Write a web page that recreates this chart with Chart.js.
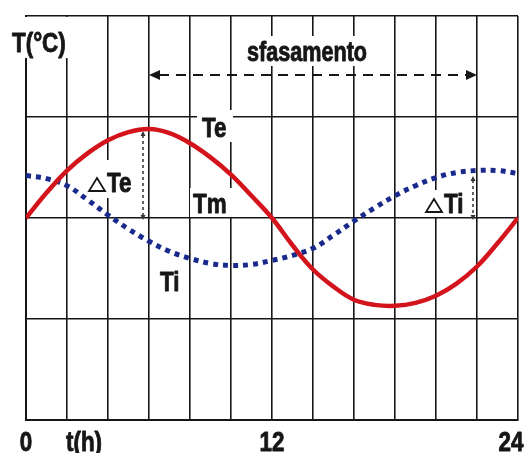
<!DOCTYPE html>
<html>
<head>
<meta charset="utf-8">
<script src="https://cdn.jsdelivr.net/npm/chart.js@4.4.1/dist/chart.umd.min.js"></script>
<style>
  html, body { margin: 0; padding: 0; background: #ffffff; }
  #wrap { width: 525px; height: 453px; }
</style>
</head>
<body>
<div id="wrap"><canvas id="c" width="525" height="453"></canvas></div>
<script>
// ---- data ----
const hours = [0,1,2,3,4,5,6,7,8,9,10,11,12,13,14,15,16,17,18,19,20,21,22,23,24];
const teValues = [0, 0.25, 0.47, 0.64, 0.77, 0.85, 0.88, 0.84, 0.74, 0.60, 0.43, 0.22, 0,
                  -0.27, -0.51, -0.68, -0.81, -0.86, -0.87, -0.84, -0.77, -0.65, -0.48, -0.25, 0];
const tiValues = [0.42, 0.39, 0.32, 0.18, 0.03, -0.11, -0.23, -0.33, -0.40, -0.45, -0.47, -0.46, -0.42,
                  -0.37, -0.30, -0.17, -0.03, 0.10, 0.22, 0.32, 0.40, 0.45, 0.47, 0.47, 0.44];
const xTickValues = [0, 12, 24];
const xTickLabels = ['0', '12', '24'];
const seriesNames = ['Te', 'Ti'];
const axisTitleY = 'T(°C)';
const axisTitleX = 't(h)';
const phaseLabel = 'sfasamento';
const meanLabel = 'Tm';
const deltaSign = '△';

const FONT = '"Liberation Sans", Arial, sans-serif';
const INK = '#161616';

function condText(ctx, text, x, y, size, align) {
  ctx.save();
  ctx.font = 'bold ' + size + 'px ' + FONT;
  ctx.textBaseline = 'alphabetic';
  const sx = 0.8;
  const w = ctx.measureText(text).width * sx;
  let left = x;
  if (align === 'center') left = x - w / 2;
  ctx.translate(left, y);
  ctx.scale(sx, 1);
  ctx.fillStyle = INK;
  ctx.strokeStyle = INK;
  ctx.lineWidth = 0.9;
  ctx.lineJoin = 'round';
  ctx.textAlign = 'left';
  ctx.fillText(text, 0, 0);
  ctx.strokeText(text, 0, 0);
  ctx.restore();
  return w;
}
function deltaText(ctx, text, x, y, size) {
  // small outlined triangle followed by label
  ctx.save();
  ctx.strokeStyle = INK;
  ctx.lineWidth = 1.8;
  ctx.lineJoin = 'miter';
  const tw = 16, th = 13;
  ctx.beginPath();
  ctx.moveTo(x + 1, y - 1);
  ctx.lineTo(x + 1 + tw, y - 1);
  ctx.lineTo(x + 1 + tw / 2, y - 1 - th);
  ctx.closePath();
  ctx.stroke();
  ctx.restore();
  condText(ctx, text, x + tw + 3, y, size, 'left');
}
function whiteRect(ctx, x0, y0, x1, y1) {
  ctx.save();
  ctx.fillStyle = '#ffffff';
  ctx.fillRect(x0, y0, x1 - x0, y1 - y0);
  ctx.restore();
}
function arrowHead(ctx, x, y, dir, len, half) {
  ctx.beginPath();
  if (dir === 'left') { ctx.moveTo(x, y); ctx.lineTo(x + len, y - half); ctx.lineTo(x + len, y + half); }
  if (dir === 'right') { ctx.moveTo(x, y); ctx.lineTo(x - len, y - half); ctx.lineTo(x - len, y + half); }
  if (dir === 'up') { ctx.moveTo(x, y); ctx.lineTo(x - half, y + len); ctx.lineTo(x + half, y + len); }
  if (dir === 'down') { ctx.moveTo(x, y); ctx.lineTo(x - half, y - len); ctx.lineTo(x + half, y - len); }
  ctx.closePath();
  ctx.fill();
}

const annot = {
  id: 'annot',
  beforeDatasetsDraw(chart) {
    const ctx = chart.ctx;
    const xs = chart.scales.x;
    const px = v => xs.getPixelForValue(v);
    // white patches behind labels
    whiteRect(ctx, 0, 17, 72, 58);
    whiteRect(ctx, 244, 36, 377, 66);
    whiteRect(ctx, 197, 110, 233, 142);
    whiteRect(ctx, 190, 188, 233, 217);
    whiteRect(ctx, 86, 160, 138, 198);
    whiteRect(ctx, 423, 190, 467, 217);
    whiteRect(ctx, 0, chart.chartArea.bottom + 1, 525, 453);

    condText(ctx, axisTitleY, 12, 52, 28, 'left');
    condText(ctx, phaseLabel, 247, 61, 27, 'left');
    condText(ctx, seriesNames[0], 202, 137, 28, 'left');
    condText(ctx, meanLabel, 193, 213, 28, 'left');
    deltaText(ctx, seriesNames[0], 88, 192, 28);
    condText(ctx, seriesNames[1], 160, 291, 28, 'left');
    deltaText(ctx, seriesNames[1], 425, 213, 28);

    // bottom labels
    for (let i = 0; i < xTickValues.length; i++) {
      let cx = px(xTickValues[i]);
      if (i === xTickValues.length - 1) cx -= 7;
      condText(ctx, xTickLabels[i], cx, 451, 28, 'center');
    }
    condText(ctx, axisTitleX, 66, 451, 28, 'left');

    // phase-shift arrow
    ctx.save();
    ctx.strokeStyle = INK; ctx.fillStyle = INK;
    ctx.lineWidth = 2;
    ctx.setLineDash([10, 7]);
    const ay = 75, ax0 = px(6), ax1 = px(22);
    ctx.beginPath(); ctx.moveTo(ax0 + 10, ay); ctx.lineTo(ax1 - 10, ay); ctx.stroke();
    ctx.setLineDash([]);
    arrowHead(ctx, ax0, ay, 'left', 11, 5);
    arrowHead(ctx, ax1, ay, 'right', 11, 5);

    // amplitude arrows
    ctx.lineWidth = 1.5;
    ctx.strokeStyle = '#333';
    ctx.fillStyle = '#333';
    ctx.setLineDash([3, 3]);
    const tx = 143;
    ctx.beginPath(); ctx.moveTo(tx, 135); ctx.lineTo(tx, 216); ctx.stroke();
    const ix = 473;
    ctx.beginPath(); ctx.moveTo(ix, 180); ctx.lineTo(ix, 216); ctx.stroke();
    ctx.setLineDash([]);
    arrowHead(ctx, tx, 131, 'up', 5, 2.5);
    arrowHead(ctx, tx, 220, 'down', 5, 2.5);
    arrowHead(ctx, ix, 176, 'up', 5, 2.5);
    arrowHead(ctx, ix, 220, 'down', 5, 2.5);
    ctx.restore();
  }
};

new Chart(document.getElementById('c'), {
  type: 'line',
  data: {
    datasets: [
      {
        label: seriesNames[0],
        data: hours.map((h, i) => ({ x: h, y: teValues[i] })),
        borderColor: '#d3141d',
        borderWidth: 4.5,
        pointRadius: 0,
        tension: 0.4,
        fill: false
      },
      {
        label: seriesNames[1],
        data: hours.map((h, i) => ({ x: h, y: tiValues[i] })),
        borderColor: '#1a2a8c',
        borderWidth: 5,
        borderDash: [5, 5],
        borderCapStyle: 'butt',
        pointRadius: 0,
        tension: 0.4,
        fill: false
      }
    ]
  },
  options: {
    responsive: false,
    animation: false,
    events: [],
    layout: { padding: { left: 26, right: 7, top: 16, bottom: 33 } },
    plugins: { legend: { display: false }, tooltip: { enabled: false } },
    scales: {
      x: {
        type: 'linear', min: 0, max: 24,
        ticks: { display: false, stepSize: 2 },
        grid: { color: INK, lineWidth: 1.6, drawTicks: false },
        border: { display: true, color: INK, width: 2 }
      },
      y: {
        type: 'linear', min: -2, max: 2,
        ticks: { display: false, stepSize: 1 },
        grid: { color: INK, lineWidth: 1.6, drawTicks: false },
        border: { display: true, color: INK, width: 2 }
      }
    }
  },
  plugins: [annot]
});
</script>
</body>
</html>
